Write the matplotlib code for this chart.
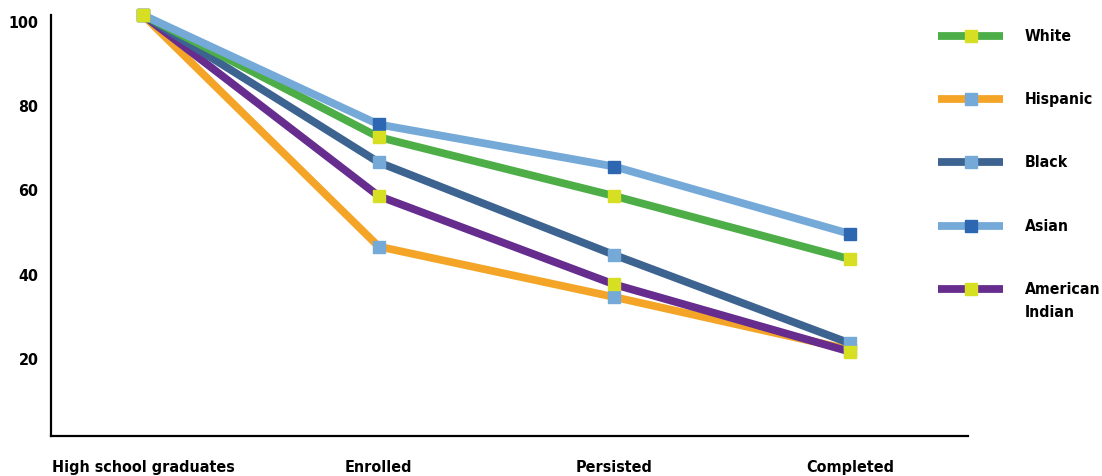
import matplotlib
matplotlib.use("Agg")
import matplotlib.pyplot as plt
import matplotlib.transforms as mtransforms
from matplotlib.lines import Line2D

plt.rcParams['font.family'] = ['DejaVu Sans']
plt.rcParams['font.stretch'] = 'condensed'

# data
stages = ["High school graduates", "Enrolled", "Persisted", "Completed"]
white = [100, 71, 57, 42]
hispanic = [100, 45, 33, 20.5]
black = [100, 65, 43, 22]
asian = [100, 74, 64, 48]
american_indian = [100, 57, 36, 20]

# name, values, line colour, marker colour, marker layer
series = [
    ("Hispanic", hispanic, "#f4a528", "#74a9d8", 0),
    ("American\nIndian", american_indian, "#662d8f", "#d7df23", 4),
    ("Black", black, "#3d6490", "#74a9d8", 1),
    ("White", white, "#4dae48", "#d7df23", 3),
    ("Asian", asian, "#74a9d8", "#2e67b1", 2),
]
legend_order = ["White", "Hispanic", "Black", "Asian", "American\nIndian"]

W, H = 1102, 476
fig = plt.figure(figsize=(W / 100, H / 100), dpi=100)
ax = fig.add_axes([51 / W, 1 - 436 / H, (968 - 51) / W, (436 - 15) / H])

x = range(len(stages))
for i, (name, vals, col, mcol, mz) in enumerate(series):
    ax.plot(x, vals, color=col, lw=5.6, solid_joinstyle='miter',
            solid_capstyle='butt', zorder=2 + i, clip_on=False)
    ax.plot(x, vals, ls='none', marker='s', ms=8, mfc=mcol, mec=mcol,
            zorder=10 + mz, clip_on=False)

ax.set_xlim(-0.39, 3.5)
ax.set_ylim(0, 100)
ax.set_yticks([20, 40, 60, 80, 100])
ax.set_xticks(list(x))
ax.set_xticklabels(stages)
ax.tick_params(length=0, labelsize=11.5)
ax.tick_params(axis='y', pad=9)
ax.tick_params(axis='x', pad=17)
shift = mtransforms.ScaledTranslation(0, -7 / 100, fig.dpi_scale_trans)
for lab in ax.get_yticklabels():
    lab.set_fontweight('bold')
    lab.set_transform(lab.get_transform() + shift)
for lab in ax.get_xticklabels():
    lab.set_fontweight('bold')
ax.spines['top'].set_visible(False)
ax.spines['right'].set_visible(False)
ax.spines['left'].set_linewidth(1.6)
ax.spines['bottom'].set_linewidth(1.6)

# legend drawn by hand
lookup = {s[0]: s for s in series}
for k, name in enumerate(legend_order):
    _, _, col, mcol, _ = lookup[name]
    yy = 1 - (36 + 63.2 * k) / H
    fig.add_artist(Line2D([938 / W, 1003 / W], [yy, yy], color=col, lw=5.6,
                          solid_capstyle='butt', transform=fig.transFigure))
    fig.add_artist(Line2D([970.5 / W], [yy], marker='s', ms=8, mfc=mcol,
                          mec=mcol, transform=fig.transFigure))
    fig.text(1025 / W, yy + 7 / H, name, fontsize=11.3, fontweight='bold',
             va='top', ha='left', linespacing=1.65)

fig.savefig("out.png", dpi=100)
